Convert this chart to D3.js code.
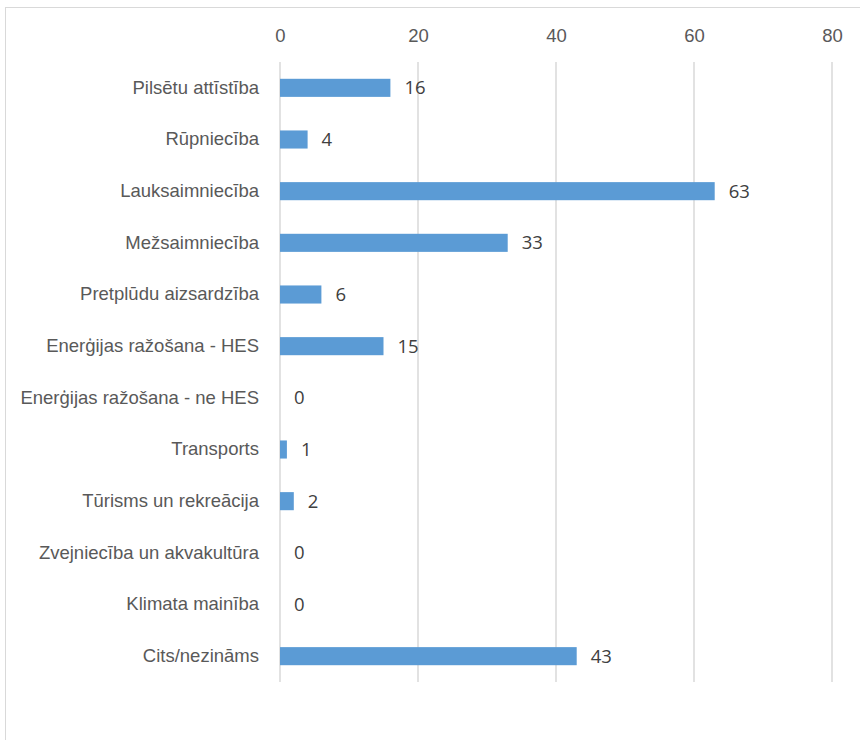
<!DOCTYPE html>
<html>
<head>
<meta charset="utf-8">
<script src="https://cdn.jsdelivr.net/npm/d3@7.9.0/dist/d3.min.js"></script>
<style>
  body { margin: 0; background: #fff; }
  svg { display: block; font-family: "Open Sans", "Liberation Sans", Arial, sans-serif; }
</style>
</head>
<body>
<div id="chart"></div>
<script>
// Chart data
const categories = [
    "Pilsētu attīstība", "Rūpniecība", "Lauksaimniecība", "Mežsaimniecība",
    "Pretplūdu aizsardzība", "Enerģijas ražošana - HES", "Enerģijas ražošana - ne HES",
    "Transports", "Tūrisms un rekreācija", "Zvejniecība un akvakultūra",
    "Klimata mainība", "Cits/nezināms"
];
const values = [16, 4, 63, 33, 6, 15, 0, 1, 2, 0, 0, 43];
const xTicks = [0, 20, 40, 60, 80];

const width = 860;
const height = 740;
const margin = { top: 62, right: 28, bottom: 58, left: 280 };
const fontSize = '18.5px';

const svg = d3.select('#chart')
    .append('svg')
    .attr('width', width)
    .attr('height', height);

// chart frame
svg.append('rect')
    .attr('x', 5.5).attr('y', 7.5)
    .attr('width', 900).attr('height', 800)
    .attr('fill', 'none')
    .attr('stroke', '#d9d9d9');

const xScale = d3.scaleLinear()
    .domain([0, 80])
    .range([margin.left, width - margin.right]);

const yScale = d3.scaleBand()
    .domain(categories)
    .range([margin.top, height - margin.bottom])
    .paddingInner(0.65)
    .paddingOuter(0.325);

// gridlines
svg.append('g')
    .selectAll('line')
    .data(xTicks)
    .join('line')
    .attr('x1', d => xScale(d)).attr('x2', d => xScale(d))
    .attr('y1', margin.top).attr('y2', height - margin.bottom)
    .attr('stroke', '#d9d9d9')
    .attr('stroke-width', 1.5);

// top axis
const xAxis = d3.axisTop(xScale).tickValues(xTicks).tickSize(0).tickPadding(0);
const gx = svg.append('g')
    .attr('transform', `translate(0, 42)`)
    .call(xAxis);
gx.select('.domain').remove();
gx.selectAll('text')
    .attr('fill', '#595959')
    .style('font-size', fontSize);

// category axis
const yAxis = d3.axisLeft(yScale).tickSize(0).tickPadding(21);
const gy = svg.append('g')
    .attr('transform', `translate(${margin.left}, 0)`)
    .call(yAxis);
gy.select('.domain').remove();
gy.selectAll('text')
    .attr('fill', '#595959')
    .style('font-size', fontSize);

// bars
svg.append('g')
    .selectAll('rect')
    .data(values)
    .join('rect')
    .attr('x', xScale(0))
    .attr('y', (d, i) => yScale(categories[i]))
    .attr('width', d => xScale(d) - xScale(0))
    .attr('height', yScale.bandwidth())
    .attr('fill', '#5b9bd5');

// value labels
svg.append('g')
    .selectAll('text')
    .data(values)
    .join('text')
    .attr('x', d => xScale(d) + 14)
    .attr('y', (d, i) => yScale(categories[i]) + yScale.bandwidth() / 2)
    .attr('dy', '0.35em')
    .attr('fill', '#404040')
    .style('font-size', fontSize)
    .text(d => d);
</script>
</body>
</html>
